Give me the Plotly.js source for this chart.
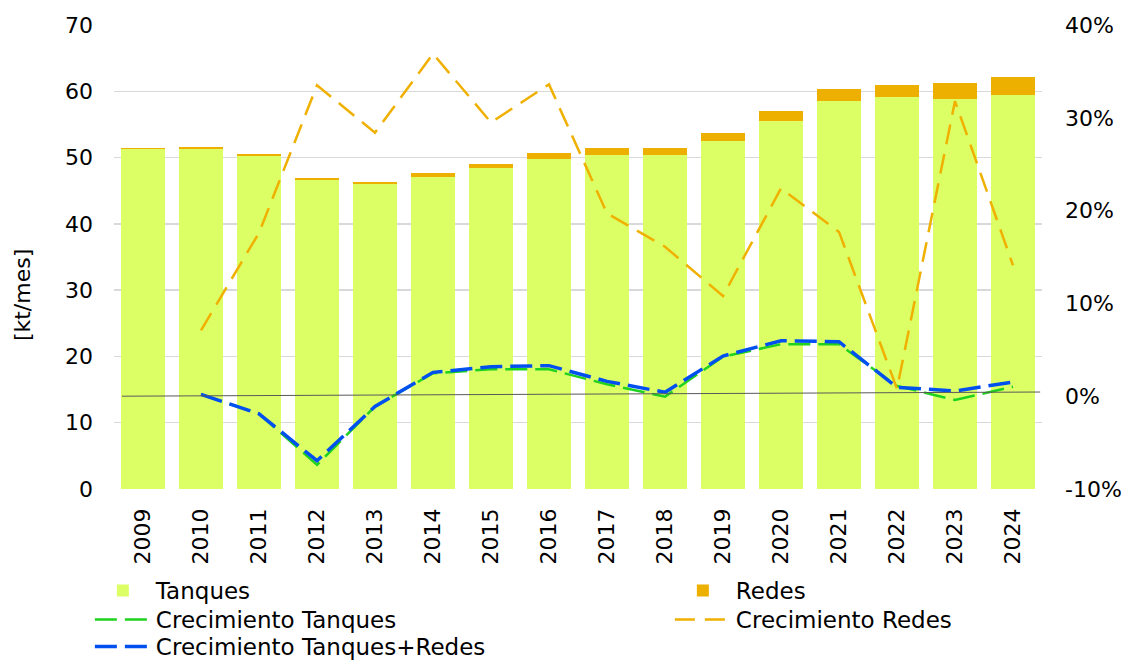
<!DOCTYPE html>
<html>
<head>
<meta charset="utf-8">
<script src="https://cdn.plot.ly/plotly-3.0.1.min.js"></script>
<style>html,body{margin:0;padding:0;background:#fff;}#chart{width:1132px;height:660px;}</style>
</head>
<body>
<div id="chart"></div>
<script>
const years = ['2009','2010','2011','2012','2013','2014','2015','2016','2017','2018','2019','2020','2021','2022','2023','2024'];
const tanques = [51.3, 51.3, 50.3, 46.6, 46.0, 47.1, 48.5, 49.8, 50.4, 50.4, 52.5, 55.5, 58.5, 59.1, 58.8, 59.45];
const redes = [0.15, 0.25, 0.2, 0.25, 0.3, 0.5, 0.6, 0.85, 1.0, 1.1, 1.25, 1.5, 1.8, 1.8, 2.4, 2.7];
const crecTanques = [null, 0.002, -0.019, -0.074, -0.011, 0.0247, 0.029, 0.029, 0.0128, -0.0005, 0.0426, 0.056, 0.056, 0.011, -0.0041, 0.0102];
const crecRedes = [null, 0.071, 0.176, 0.335, 0.284, 0.369, 0.295, 0.336, 0.197, 0.161, 0.108, 0.224, 0.177, 0.008, 0.318, 0.141];
const crecTotal = [null, 0.002, -0.019, -0.0695, -0.011, 0.0257, 0.0318, 0.0329, 0.016, 0.0042, 0.0433, 0.0598, 0.0587, 0.0096, 0.0056, 0.0153];
const leftTicks = [0, 10, 20, 30, 40, 50, 60, 70];
const rightTicks = [-0.1, 0, 0.1, 0.2, 0.3, 0.4];
const rightTickText = ['-10%', '0%', '10%', '20%', '30%', '40%'];
const yTitle = '[kt/mes]';

const FONT = 'DejaVu Sans, Verdana, sans-serif';

const traces = [
  {type:'bar', name:'Tanques', x:years, y:tanques, marker:{color:'#DDFF66'}, legend:'legend'},
  {type:'bar', name:'Redes', x:years, y:redes, marker:{color:'#EDB000'}, legend:'legend2'},
  {type:'scatter', mode:'lines', name:'Crecimiento Tanques', x:years, y:crecTanques, yaxis:'y2',
   line:{color:'#1ED21E', width:2.5, dash:'22px,8px'}, legend:'legend3'},
  {type:'scatter', mode:'lines', name:'Crecimiento Redes', x:years, y:crecRedes, yaxis:'y2',
   line:{color:'#F0B000', width:2.5, dash:'20px,10px'}, legend:'legend4'},
  {type:'scatter', mode:'lines', name:'Crecimiento Tanques+Redes', x:years, y:crecTotal, yaxis:'y2',
   line:{color:'#0050F0', width:3.5, dash:'22px,8px'}, legend:'legend5'}
];

function leg(x, y) {
  return {x:x, y:y, xref:'paper', yref:'container', xanchor:'left', yanchor:'top',
          orientation:'v', font:{size:23}, itemwidth:56, bgcolor:'rgba(0,0,0,0)'};
}
const colL = -0.026, colR = 0.599;

const layout = {
  width:1132, height:660,
  margin:{l:114, r:90, t:25, b:171},
  paper_bgcolor:'#fff', plot_bgcolor:'#fff',
  font:{family:FONT, size:22, color:'#000'},
  barmode:'stack', bargap:0.24,
  showlegend:true,
  xaxis:{type:'category', tickangle:-90, tickfont:{size:22}, showgrid:false, zeroline:false,
         showline:false, ticks:'', ticklabelstandoff:14, automargin:false},
  yaxis:{range:[0,70], tickvals:leftTicks, showgrid:true, gridcolor:'#d9d9d9', gridwidth:1.5,
         zeroline:false, ticks:'', ticklabelstandoff:20, automargin:false},
  yaxis2:{overlaying:'y', side:'right', range:[-0.1,0.4], tickvals:rightTicks, ticktext:rightTickText,
          showgrid:false, zeroline:false, ticks:'', ticklabelstandoff:22, automargin:false},
  legend: leg(colL, 1 - 569/660),
  legend2: leg(colR, 1 - 569/660),
  legend3: leg(colL, 1 - 598/660),
  legend4: leg(colR, 1 - 598/660),
  legend5: leg(colL, 1 - 625/660),
  annotations:[{text:yTitle, textangle:-90, xref:'paper', yref:'paper', x:-0.0991, y:0.418,
                xanchor:'center', yanchor:'middle', showarrow:false, font:{size:22}}],
  shapes:[{type:'line', xref:'paper', yref:'y2', x0:0.0086, x1:0.998, y0:0, y1:0.0045,
           line:{color:'#595959', width:1}}]
};

Plotly.newPlot('chart', traces, layout, {displayModeBar:false, staticPlot:true});
</script>
</body>
</html>
